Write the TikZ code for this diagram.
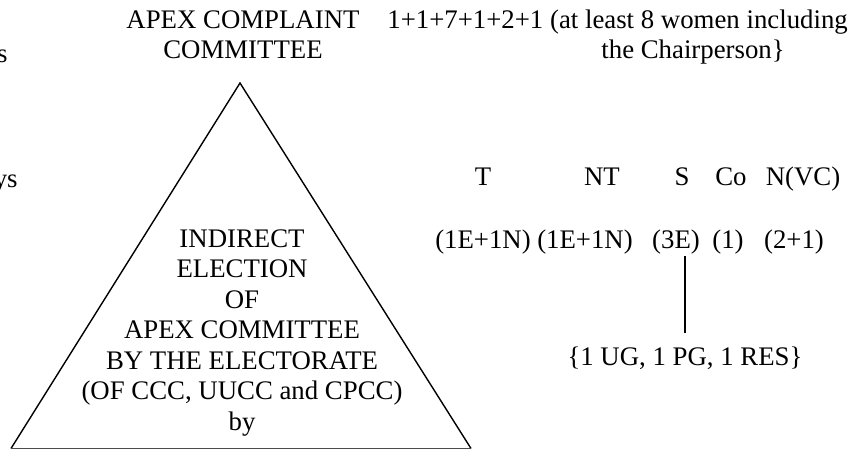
\documentclass[tikz,border=0pt]{standalone}
\usepackage{fontspec}
\setmainfont{Liberation Serif}
\begin{document}
\begin{tikzpicture}[x=0.5pt,y=-0.5pt,
  txt/.style={inner sep=0pt,font=\fontsize{13.4pt}{15.25pt}\selectfont},
  ctxt/.style={txt,align=center}]
\useasboundingbox (0,0) rectangle (856,450);
% triangle
\coordinate (apex) at (240,83);
\coordinate (bl) at (11,448.5);
\coordinate (br) at (471,448.5);
\draw[line width=0.7pt] (bl) -- (apex) -- (br);
\draw[line width=0.7pt,black!70] (bl) -- (br);
\node[ctxt] (tri) at (242,333) {INDIRECT\\ELECTION\\OF\\APEX COMMITTEE\\BY THE ELECTORATE\\(OF CCC, UUCC and CPCC)\\by};
% clipped left words
\node[txt,anchor=base east] (s1) at (8,62) {s};
\node[txt,anchor=base east] (s2) at (18,187) {ys};
% top
\node[txt,anchor=base] (apx1) at (243,28) {APEX COMPLAINT};
\node[txt,anchor=base] (apx2) at (243,58) {COMMITTEE};
\node[txt,anchor=base west] (cmp1) at (387,28) {1+1+7+1+2+1 (at least 8 women including};
\node[txt,anchor=base west] (cmp2) at (601,58) {the Chairperson\}};
% row of categories
\node[txt,anchor=base] (cT) at (483,185) {T};
\node[txt,anchor=base] (cNT) at (602,185) {NT};
\node[txt,anchor=base] (cS) at (682,185) {S};
\node[txt,anchor=base] (cCo) at (731,185) {Co};
\node[txt,anchor=base] (cN) at (803,185) {N(VC)};
% numbers
\node[txt,anchor=base] (nT) at (483,248) {(1E+1N)};
\node[txt,anchor=base] (nNT) at (585,248) {(1E+1N)};
\node[txt,anchor=base] (nS) at (676,248) {(3E)};
\node[txt,anchor=base] (nCo) at (728,248) {(1)};
\node[txt,anchor=base] (nN) at (794,248) {(2+1)};
% sub
\node[txt,anchor=base] (sub) at (685,365) {\{1 UG, 1 PG, 1 RES\}};
\draw[line width=0.9pt] (sub.north |- 0,256) -- (sub.north |- 0,333);
\end{tikzpicture}
\end{document}
